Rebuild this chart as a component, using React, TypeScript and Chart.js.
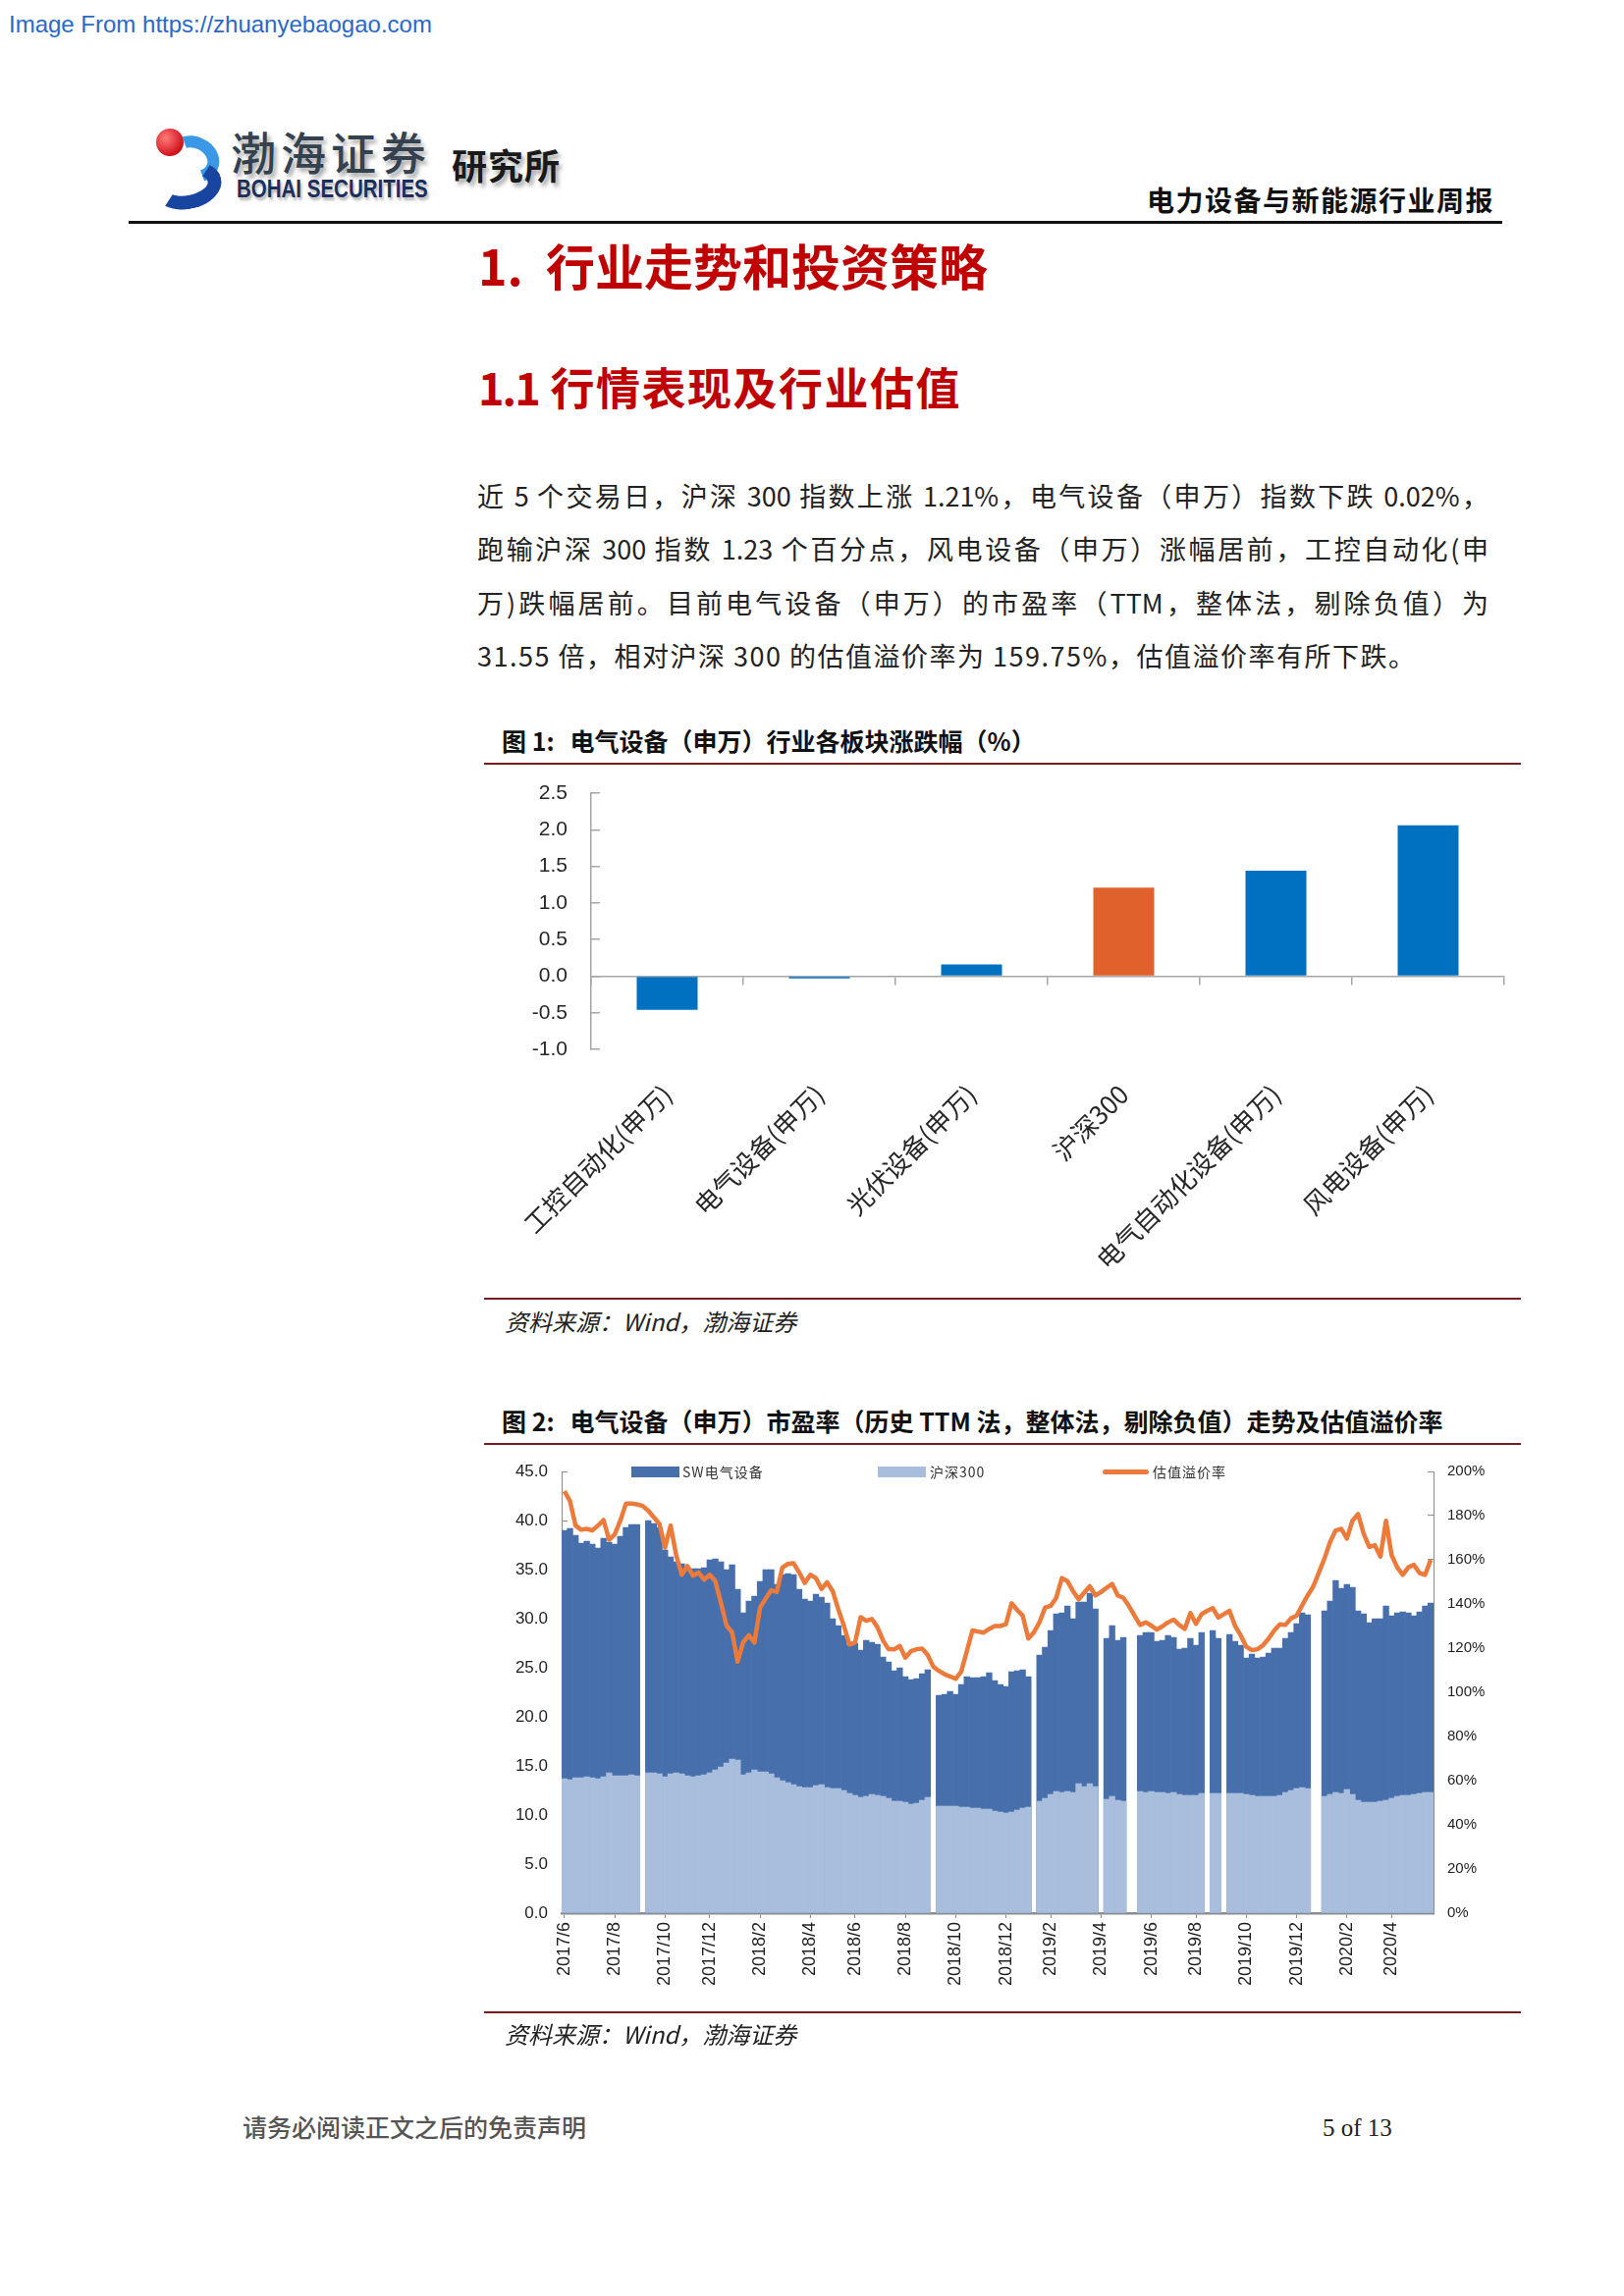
import { useEffect, useRef } from "react";
import type { CSSProperties } from "react";
import { Chart, registerables } from "chart.js";

Chart.register(...registerables);

// ---------- 图 1 ----------
const sectorLabels = [
  "工控自动化(申万)",
  "电气设备(申万)",
  "光伏设备(申万)",
  "沪深300",
  "电气自动化设备(申万)",
  "风电设备(申万)",
];
const sectorChange = [-0.46, -0.03, 0.16, 1.21, 1.44, 2.06];

// ---------- 图 2 (weekly) ----------
const weekDates = [
  "2017/6/2", "2017/6/9", "2017/6/16", "2017/6/23", "2017/6/30",
  "2017/7/7", "2017/7/14", "2017/7/21", "2017/7/28",
  "2017/8/4", "2017/8/11", "2017/8/18", "2017/8/25",
  "2017/9/1", "2017/9/8", "2017/9/15", "2017/9/22", "2017/9/29",
  "2017/10/6", "2017/10/13", "2017/10/20", "2017/10/27",
  "2017/11/3", "2017/11/10", "2017/11/17", "2017/11/24",
  "2017/12/1", "2017/12/8", "2017/12/15", "2017/12/22", "2017/12/29",
  "2018/1/5", "2018/1/12", "2018/1/19", "2018/1/26",
  "2018/2/2", "2018/2/9", "2018/2/16", "2018/2/23",
  "2018/3/2", "2018/3/9", "2018/3/16", "2018/3/23", "2018/3/30",
  "2018/4/6", "2018/4/13", "2018/4/20", "2018/4/27",
  "2018/5/4", "2018/5/11", "2018/5/18", "2018/5/25",
  "2018/6/1", "2018/6/8", "2018/6/15", "2018/6/22", "2018/6/29",
  "2018/7/6", "2018/7/13", "2018/7/20", "2018/7/27",
  "2018/8/3", "2018/8/10", "2018/8/17", "2018/8/24", "2018/8/31",
  "2018/9/7", "2018/9/14", "2018/9/21", "2018/9/28",
  "2018/10/5", "2018/10/12", "2018/10/19", "2018/10/26",
  "2018/11/2", "2018/11/9", "2018/11/16", "2018/11/23", "2018/11/30",
  "2018/12/7", "2018/12/14", "2018/12/21", "2018/12/28",
  "2019/1/4", "2019/1/11", "2019/1/18", "2019/1/25",
  "2019/2/1", "2019/2/8", "2019/2/15", "2019/2/22",
  "2019/3/1", "2019/3/8", "2019/3/15", "2019/3/22", "2019/3/29",
  "2019/4/5", "2019/4/12", "2019/4/19", "2019/4/26",
  "2019/5/3", "2019/5/10", "2019/5/17", "2019/5/24", "2019/5/31",
  "2019/6/7", "2019/6/14", "2019/6/21", "2019/6/28",
  "2019/7/5", "2019/7/12", "2019/7/19", "2019/7/26",
  "2019/8/2", "2019/8/9", "2019/8/16", "2019/8/23", "2019/8/30",
  "2019/9/6", "2019/9/13", "2019/9/20", "2019/9/27",
  "2019/10/4", "2019/10/11", "2019/10/18", "2019/10/25",
  "2019/11/1", "2019/11/8", "2019/11/15", "2019/11/22", "2019/11/29",
  "2019/12/6", "2019/12/13", "2019/12/20", "2019/12/27",
  "2020/1/3", "2020/1/10", "2020/1/17", "2020/1/24", "2020/1/31",
  "2020/2/7", "2020/2/14", "2020/2/21", "2020/2/28",
  "2020/3/6", "2020/3/13", "2020/3/20", "2020/3/27",
  "2020/4/3", "2020/4/10", "2020/4/17", "2020/4/24",
  "2020/5/1", "2020/5/8", "2020/5/15", "2020/5/22",
];

// SW电气设备 PE (TTM)
const swPE = [
  39.0, 39.2, 38.5, 37.7, 37.9, 37.6, 37.2, 38.2, 37.8, 37.6, 38.4, 39.3, 39.6, 39.6, null, 40.0,
  39.7, 39.3, 37.0, 36.3, 35.8, 35.6, 35.1, 35.1, 35.1, 35.2, 36.0, 36.1, 35.8, 35.0, 35.5,
  33.0, 30.6, 31.8, 32.3, 33.8, 35.0, 35.0, 33.5, 34.5, 34.6, 34.5, 33.0, 32.0, 31.8, 32.5, 32.2,
  31.6, 30.0, 29.3, 28.3, 27.3, 27.5, 26.8, 27.8, 27.6, 27.4, 26.1, 25.6, 24.7, 25.0, 24.1, 23.8,
  23.9, 24.4, 24.8, null, 22.2, 22.3, 22.6, 22.3, 23.3, 24.1, 24.0, 24.0, 24.1, 24.5, 23.7, 23.3,
  23.1, 24.6, 24.7, 24.8,
  24.1, null, 26.3, 27.1, 28.8, 30.5, 30.6, 31.3, 30.0, 31.7, 31.7, 32.6, 31.0, null, 28.0, 29.3,
  27.8, 28.1, null, null, 28.3, 28.6, 28.6, 27.7, 27.8, 28.3, 28.1, 26.9, 27.0, 28.0, 27.3, 28.6,
  null, 28.8, 28.0, null, 28.4, 27.7, 27.3, 26.0, 26.4, 26.0, 26.1, 26.5, 27.0, 27.0, 28.0, 28.6,
  29.5, 30.6, 30.4, null,
  null, 30.8, 31.8, 33.9, 33.1, 33.5, 33.2, 30.8, 30.5, 29.6, 30.0, 30.0, 31.3, 30.3, 30.6, 30.7,
  30.6, 30.3, 30.7, 31.3, 31.6,
];

// 沪深300 PE (TTM)
const hs300PE = [
  13.7, 13.6, 13.8, 13.8, 13.9, 13.8, 13.7, 13.9, 14.3, 14.0, 14.0, 14.0, 14.1, 14.0, null, 14.3,
  14.3, 14.2, 13.9, 14.2, 14.3, 14.2, 14.0, 13.9, 14.0, 14.1, 14.3, 14.6, 14.9, 15.3, 15.7,
  15.6, 14.1, 14.3, 14.6, 14.4, 14.4, 14.2, 13.8, 13.5, 13.3, 13.1, 12.9, 12.8, 12.8, 13.0, 13.1,
  12.8, 12.7, 12.7, 12.5, 12.2, 12.0, 11.8, 11.9, 12.1, 12.0, 11.9, 11.7, 11.4, 11.4, 11.3, 11.1,
  11.2, 11.5, 11.8, null, 10.9, 10.9, 10.9, 10.9, 10.8, 10.8, 10.7, 10.7, 10.6, 10.6, 10.4, 10.3,
  10.2, 10.3, 10.5, 10.7,
  10.8, null, 11.4, 11.7, 12.1, 12.4, 12.3, 12.4, 12.3, 13.2, 12.9, 13.2, 12.9, null, 11.6, 11.9,
  11.5, 11.4, null, null, 12.4, 12.3, 12.4, 12.3, 12.3, 12.2, 12.3, 12.1, 12.0, 12.0, 12.0, 12.2,
  null, 12.2, 12.2, null, 12.2, 12.2, 12.2, 12.1, 12.0, 11.9, 11.9, 11.9, 11.9, 12.0, 12.3, 12.5,
  12.7, 12.8, 12.7, null,
  null, 11.9, 12.1, 12.3, 12.2, 12.6, 12.1, 11.5, 11.3, 11.3, 11.3, 11.4, 11.5, 11.7, 11.9, 12.0,
  12.0, 12.1, 12.2, 12.3, 12.3,
];

// 估值溢价率 (%)
const premium = [
  191.1, 186.6, 175.5, 173.6, 174.0, 173.3, 175.5, 178.0, 169.1, 171.5, 177.7, 185.4, 185.4, 185.1,
  184.4, 182.2, 179.2, 176.2, 165.5, 175.5, 162.1, 153.2, 157.2, 152.8, 154.3, 151.0, 153.2, 150.3,
  140.6, 130.2, 127.2,
  113.9, 122.8, 125.8, 122.5, 138.4, 142.4, 146.2, 145.5, 156.5, 158.1, 158.4, 154.3, 149.5, 153.2,
  151.7, 146.8, 149.8, 145.8, 137.6, 130.2, 121.6, 122.5, 134.0, 132.4, 133.2, 129.5, 123.5, 119.5,
  119.4, 121.0, 115.7, 118.6, 119.5, 119.8, 116.9, 111.6, 109.7, 108.2, 107.2, 106.1, 109.4, 118.6,
  128.0, 127.5, 127.0, 128.7, 130.0, 130.0, 130.8, 140.3, 137.3, 134.7,
  124.3, 127.2, 131.7, 138.4, 139.1, 142.8, 151.7, 150.3, 145.8, 142.1, 145.1, 148.0, 143.9, 145.4,
  147.3, 149.1, 143.9, 142.8, 139.1, 134.7, 130.5, 131.7, 130.2, 128.4, 129.9, 131.7, 132.9, 130.5,
  128.7, 135.9, 131.0, 135.4, 136.9, 138.1, 133.9, 135.4, 136.9, 130.0, 125.8, 120.6, 119.1, 119.5,
  121.3, 124.3, 128.0, 130.8, 130.5, 133.5, 134.7, 139.4, 143.9, 148.0,
  154.3, 160.6, 168.1, 173.3, 174.0, 169.6, 177.7, 180.7, 171.8, 165.8, 166.6, 161.4, 177.7, 162.1,
  156.6, 153.2, 156.6, 157.7, 154.0, 153.2, 160.0,
];

const bodyLines = [
  "近 5 个交易日，沪深 300 指数上涨 1.21%，电气设备（申万）指数下跌 0.02%，",
  "跑输沪深 300 指数 1.23 个百分点，风电设备（申万）涨幅居前，工控自动化(申",
  "万)跌幅居前。目前电气设备（申万）的市盈率（TTM，整体法，剔除负值）为",
  "31.55 倍，相对沪深 300 的估值溢价率为 159.75%，估值溢价率有所下跌。",
];

const CJK = "'Noto Sans CJK SC', 'Noto Sans', sans-serif";
const SANS = "'Liberation Sans', Arial, sans-serif";
const SERIF = "'Liberation Serif', 'Times New Roman', serif";

const BAR_BLUE = "#0070C0";
const BAR_ORANGE = "#E0612B";
const PE_DARK = "#476FAC";
const PE_LIGHT = "#A8BEDC";
const LINE_ORANGE = "#EC7B3B";
const AXIS = "#A6A6A6";
const RULE = "#7B1C22";
const TITLE_RED = "#C00000";

function monthLabel(d: string) {
  const [y, m, day] = d.split("/").map(Number);
  return m % 2 === 0 && day <= 7 ? `${y}/${m}` : "";
}

function SectorChart() {
  const ref = useRef<HTMLCanvasElement>(null);
  useEffect(() => {
    if (!ref.current) return;
    const chart = new Chart(ref.current, {
      type: "bar",
      data: {
        labels: sectorLabels,
        datasets: [
          {
            label: "涨跌幅",
            data: sectorChange,
            backgroundColor: sectorLabels.map((l) => (l === "沪深300" ? BAR_ORANGE : BAR_BLUE)),
            barPercentage: 0.5,
            categoryPercentage: 0.8,
            xAxisID: "x",
            yAxisID: "y",
          },
        ],
      },
      options: {
        animation: false,
        responsive: true,
        maintainAspectRatio: false,
        events: [],
        layout: { padding: { top: 18, right: 18, left: 0, bottom: 0 } },
        plugins: { legend: { display: false }, tooltip: { enabled: false } },
        scales: {
          y: {
            min: -1,
            max: 2.5,
            ticks: {
              stepSize: 0.5,
              padding: 33,
              color: "#262626",
              font: { family: SANS, size: 21 },
              callback: (v) => Number(v).toFixed(1),
            },
            grid: { drawOnChartArea: false, drawTicks: true, tickLength: -9, color: AXIS, lineWidth: 1.5 },
            border: { display: true, color: AXIS, width: 1.5 },
            afterFit: (s) => {
              s.width = 102;
              s.paddingTop = 12;
              s.paddingBottom = 12;
            },
          },
          x: {
            type: "category",
            position: { y: 0 },
            offset: true,
            ticks: { display: false },
            grid: { offset: true, drawOnChartArea: false, drawTicks: true, tickLength: 8, color: AXIS, lineWidth: 1.5 },
            border: { display: true, color: AXIS, width: 1.5 },
            afterFit: (s) => {
              s.height = 0;
            },
          },
          x2: {
            type: "category",
            axis: "x",
            position: "bottom",
            offset: true,
            grid: { display: false },
            border: { display: false },
            ticks: {
              autoSkip: false,
              minRotation: 45,
              maxRotation: 45,
              padding: 22,
              color: "#262626",
              font: { family: CJK, size: 26 },
            },
            afterFit: (s) => {
              s.height = 251;
            },
          },
        },
      },
    });
    return () => chart.destroy();
  }, []);
  return <canvas ref={ref} />;
}

function ValuationChart() {
  const ref = useRef<HTMLCanvasElement>(null);
  useEffect(() => {
    if (!ref.current) return;
    const tickWeeks = new Set(weekDates.map((d, i) => (monthLabel(d) ? i : -1)).filter((i) => i >= 0));
    const chart = new Chart(ref.current, {
      type: "bar",
      data: {
        labels: weekDates,
        datasets: [
          {
            type: "line",
            label: "估值溢价率",
            data: premium,
            yAxisID: "y2",
            xAxisID: "x",
            borderColor: LINE_ORANGE,
            borderWidth: 4.5,
            pointRadius: 0,
            tension: 0,
            borderJoinStyle: "round",
            order: 0,
          },
          {
            label: "沪深300",
            data: hs300PE,
            yAxisID: "y",
            xAxisID: "x",
            backgroundColor: PE_LIGHT,
            grouped: false,
            barPercentage: 1,
            categoryPercentage: 1,
            order: 1,
          },
          {
            label: "SW电气设备",
            data: swPE,
            yAxisID: "y",
            xAxisID: "x",
            backgroundColor: PE_DARK,
            grouped: false,
            barPercentage: 1,
            categoryPercentage: 1,
            order: 2,
          },
        ],
      },
      options: {
        animation: false,
        responsive: true,
        maintainAspectRatio: false,
        events: [],
        layout: { padding: { top: 12, right: 0, left: 0, bottom: 0 } },
        plugins: { legend: { display: false }, tooltip: { enabled: false } },
        scales: {
          x: {
            type: "category",
            offset: true,
            grid: {
              offset: false,
              drawOnChartArea: false,
              drawTicks: true,
              tickLength: 5,
              color: (ctx) => (tickWeeks.has(ctx.index) ? "#8C8C8C" : "rgba(0,0,0,0)"),
            },
            border: { display: true, color: "#8C8C8C", width: 2.5 },
            ticks: {
              autoSkip: false,
              minRotation: 90,
              maxRotation: 90,
              padding: 4,
              color: "#1f1f1f",
              font: { family: SANS, size: 18 },
              callback: (_v, i) => monthLabel(weekDates[i]),
            },
            afterFit: (s) => {
              s.height = 111;
            },
          },
          y: {
            position: "left",
            min: 0,
            max: 45,
            ticks: {
              stepSize: 5,
              padding: 20,
              color: "#1f1f1f",
              font: { family: SANS, size: 17 },
              callback: (v) => Number(v).toFixed(1),
            },
            grid: { drawOnChartArea: false, drawTicks: true, tickLength: -6, color: "#8C8C8C" },
            border: { display: true, color: "#8C8C8C" },
            afterFit: (s) => {
              s.width = 72;
              s.paddingTop = 10;
              s.paddingBottom = 10;
            },
          },
          y2: {
            position: "right",
            min: 0,
            max: 200,
            ticks: {
              stepSize: 20,
              padding: 20,
              color: "#1f1f1f",
              font: { family: SANS, size: 15 },
              callback: (v) => `${v}%`,
            },
            grid: { drawOnChartArea: false, drawTicks: true, tickLength: -6, color: "#8C8C8C" },
            border: { display: true, color: "#8C8C8C" },
            afterFit: (s) => {
              s.width = 90;
              s.paddingTop = 10;
              s.paddingBottom = 10;
            },
          },
        },
      },
    });
    return () => chart.destroy();
  }, []);
  return <canvas ref={ref} />;
}

const abs = (left: number, top: number, extra: CSSProperties = {}): CSSProperties => ({
  position: "absolute",
  left,
  top,
  whiteSpace: "nowrap",
  ...extra,
});

function Rule({ top, left = 493, width = 1056, color = RULE, h = 2 }: { top: number; left?: number; width?: number; color?: string; h?: number }) {
  return <div style={abs(left, top, { width, height: h, background: color })} />;
}

export default function App() {
  const figTitle: CSSProperties = { fontFamily: CJK, fontSize: 25, lineHeight: "25px", fontWeight: 700, color: "#111" };
  const source: CSSProperties = { fontFamily: CJK, fontSize: 24, lineHeight: "24px", fontStyle: "italic", color: "#222" };
  const legendText: CSSProperties = { fontFamily: CJK, fontSize: 14, lineHeight: "14px", letterSpacing: 1, color: "#333" };

  return (
    <div style={{ position: "absolute", left: 0, top: 0, width: 1654, height: 2339, background: "#fff", overflow: "hidden" }}>
      <div style={abs(9, 13, { fontFamily: SANS, fontSize: 24, lineHeight: "24px", color: "#2969C9" })}>
        Image From https://zhuanyebaogao.com
      </div>

      {/* header logo */}
      <div style={abs(156, 131, { width: 72, height: 82 })}>
        <div style={{ position: "absolute", left: 3, top: 0, width: 28, height: 28, borderRadius: "50%", background: "radial-gradient(circle at 35% 35%, #ff7a7a, #d0121b 70%)" }} />
        <div style={{ position: "absolute", left: 14, top: 8, width: 30, height: 22, borderRadius: "50%", border: "12px solid #3a98e6", borderLeftColor: "transparent", borderBottomColor: "transparent", transform: "rotate(25deg)" }} />
        <div style={{ position: "absolute", left: 0, top: 34, width: 42, height: 20, borderRadius: "50%", border: "14px solid #1745a0", borderLeftColor: "transparent", borderTopColor: "transparent", transform: "rotate(-12deg)" }} />
      </div>
      <div style={abs(235, 130, { fontFamily: CJK, fontSize: 46, lineHeight: "46px", fontWeight: 500, letterSpacing: 5, color: "#34414f", textShadow: "3px 4px 4px rgba(0,0,0,0.35)" })}>
        渤海证券
      </div>
      <div style={abs(241, 180, { fontFamily: SANS, fontSize: 25, lineHeight: "25px", fontWeight: 700, color: "#1C2E5C", transform: "scaleX(0.82)", transformOrigin: "left top", textShadow: "2px 3px 3px rgba(0,0,0,0.3)" })}>
        BOHAI SECURITIES
      </div>
      <div style={abs(460, 149, { fontFamily: CJK, fontSize: 36, lineHeight: "36px", fontWeight: 700, letterSpacing: 1, color: "#1a1a1a", textShadow: "3px 4px 4px rgba(0,0,0,0.35)" })}>
        研究所
      </div>
      <div style={abs(1168, 189, { fontFamily: CJK, fontSize: 28, lineHeight: "28px", fontWeight: 700, letterSpacing: 1.5, color: "#111" })}>
        电力设备与新能源行业周报
      </div>
      <Rule top={225} left={131} width={1399} color="#111" h={3} />

      {/* section titles */}
      <div style={abs(487, 244, { fontFamily: CJK, fontSize: 50, lineHeight: "50px", fontWeight: 700, color: TITLE_RED, wordSpacing: 12 })}>
        1. 行业走势和投资策略
      </div>
      <div style={abs(487, 371, { fontFamily: CJK, fontSize: 45, lineHeight: "45px", fontWeight: 700, color: TITLE_RED, letterSpacing: 1.5 })}>
        <span style={{ letterSpacing: -2 }}>1.1</span> 行情表现及行业估值
      </div>

      {/* body */}
      {bodyLines.map((line, i) => (
        <div
          key={i}
          style={{
            position: "absolute",
            left: 486,
            top: 491 + i * 54.4,
            width: 1030,
            fontFamily: CJK,
            fontSize: 27,
            lineHeight: "27px",
            letterSpacing: i < 3 ? 0 : 1.5,
            color: "#222",
            textAlign: "justify",
            textAlignLast: i < 3 ? "justify" : "left",
          }}
        >
          {line}
        </div>
      ))}

      {/* figure 1 */}
      <div style={abs(511, 742, figTitle)}>
        <span style={{ marginRight: 16 }}>图 1:</span>电气设备（申万）行业各板块涨跌幅（%）
      </div>
      <Rule top={777} />
      <div style={{ position: "absolute", left: 500, top: 790, width: 1050, height: 530 }}>
        <SectorChart />
      </div>
      <Rule top={1322} />
      <div style={abs(514, 1334, source)}>资料来源：Wind，渤海证券</div>

      {/* figure 2 */}
      <div style={abs(511, 1435, figTitle)}>
        <span style={{ marginRight: 16 }}>图 2:</span>电气设备（申万）市盈率（历史 TTM 法，整体法，剔除负值）走势及估值溢价率
      </div>
      <Rule top={1470} />
      <div style={{ position: "absolute", left: 500, top: 1487, width: 1050, height: 573 }}>
        <ValuationChart />
      </div>
      {/* legend of figure 2 */}
      <div style={abs(643, 1494, { width: 49, height: 11, background: PE_DARK })} />
      <div style={abs(695, 1492, legendText)}>SW电气设备</div>
      <div style={abs(894, 1494, { width: 49, height: 11, background: PE_LIGHT })} />
      <div style={abs(947, 1492, legendText)}>沪深300</div>
      <div style={abs(1123, 1497, { width: 47, height: 5, borderRadius: 3, background: LINE_ORANGE })} />
      <div style={abs(1174, 1492, legendText)}>估值溢价率</div>
      <Rule top={2049} />
      <div style={abs(514, 2060, source)}>资料来源：Wind，渤海证券</div>

      {/* footer */}
      <div style={abs(247, 2154, { fontFamily: CJK, fontSize: 25, lineHeight: "25px", fontWeight: 500, letterSpacing: 0, color: "#555" })}>
        请务必阅读正文之后的免责声明
      </div>
      <div style={abs(1347, 2155, { fontFamily: SERIF, fontSize: 25, lineHeight: "25px", color: "#222" })}>5 of 13</div>
    </div>
  );
}
